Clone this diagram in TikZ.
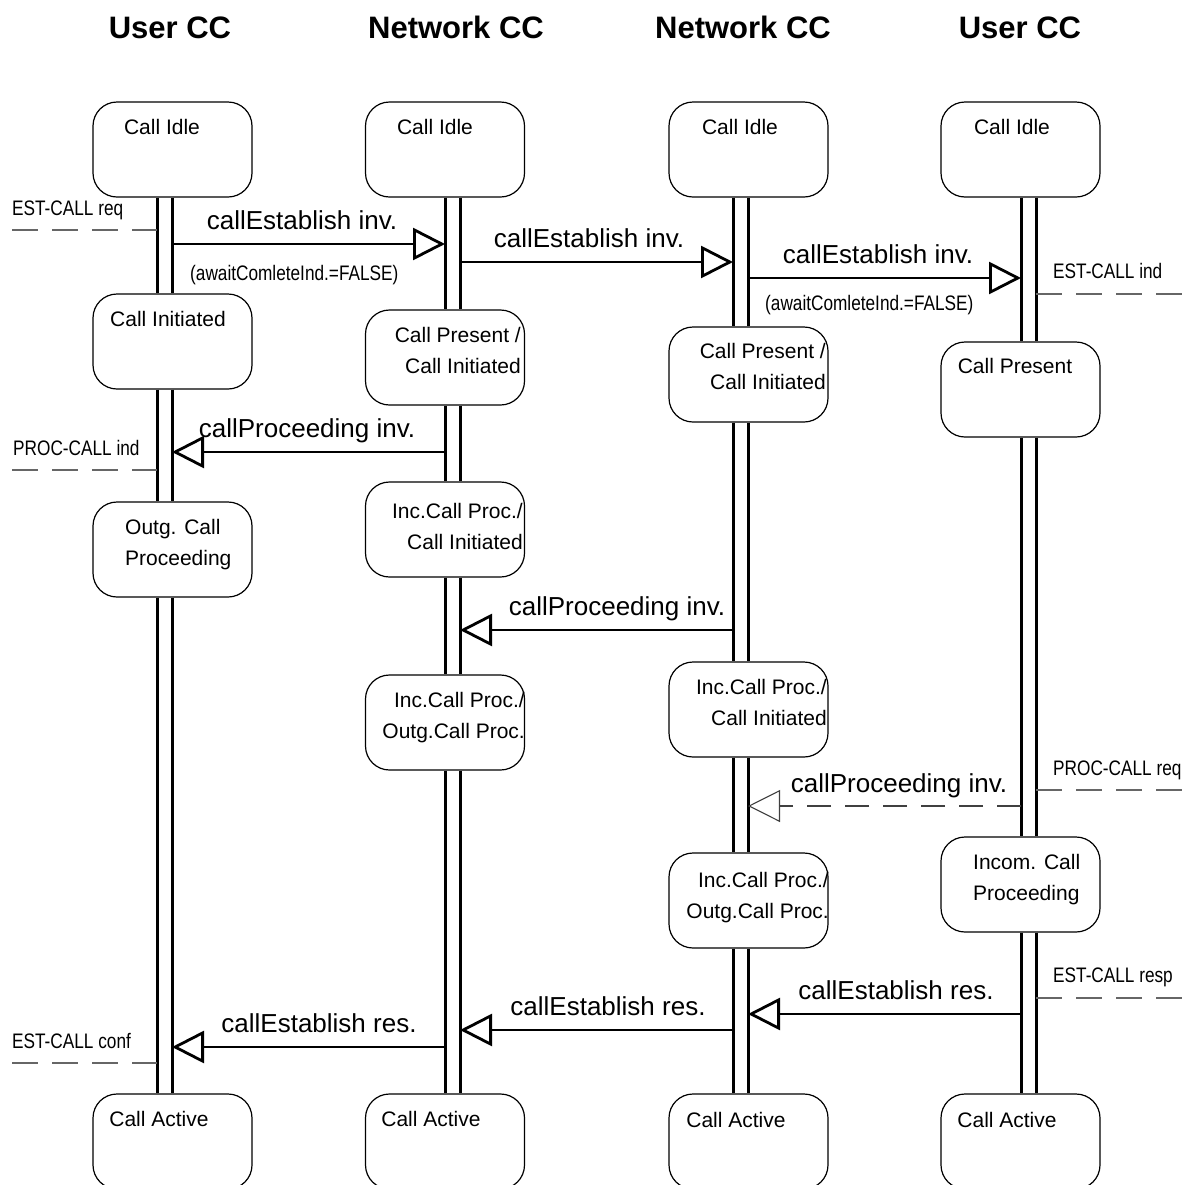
\documentclass[tikz,border=0pt]{standalone}
\usepackage{fontspec}
\setmainfont{Liberation Sans}
\newfontfamily\narrowfont[FakeStretch=0.82]{Liberation Sans}
\usetikzlibrary{arrows.meta}

\begin{document}
\begin{tikzpicture}[x=1pt,y=-1pt,
  state/.style={draw,line width=1.2pt,rounded corners=24pt,minimum width=159pt,minimum height=95pt,inner sep=0pt},
  life/.style={line width=3pt},
  msg/.style={line width=2.8pt,-{Triangle[open,length=32pt,width=32pt]}},
  dmsg/.style={line width=1.1pt,black!75,dash pattern=on 24pt off 14pt,-{Triangle[open,length=32pt,width=32pt]}},
  sig/.style={line width=1.1pt,black!60,dash pattern=on 26pt off 14pt},
  head/.style={font=\fontsize{31}{36}\selectfont\bfseries,anchor=base,inner sep=0pt},
  st/.style={font=\fontsize{21}{31}\selectfont,inner sep=0pt},
  lbl/.style={font=\fontsize{26}{30}\selectfont,anchor=base,inner sep=0pt},
  prim/.style={font=\narrowfont\fontsize{21}{25}\selectfont,anchor=base west,inner sep=0pt}
]
\path[fill=white,use as bounding box] (0,0) rectangle (1189,1184);

% column headings
\node[head] (h1) at (170,38) {User CC};
\node[head] (h2) at (456,38) {Network CC};
\node[head] (h3) at (743,38) {Network CC};
\node[head] (h4) at (1020,38) {User CC};

% lifeline rails (two per entity)
\coordinate (La1) at (157,0);  \coordinate (Lb1) at (172,0);
\coordinate (La2) at (445,0);  \coordinate (Lb2) at (460,0);
\coordinate (La3) at (733,0);  \coordinate (Lb3) at (748,0);
\coordinate (La4) at (1021,0); \coordinate (Lb4) at (1036,0);

% states, column 1
\node[state] (b11) at (172.5,149.5) {};
\node[state] (b12) at (172.5,341.5) {};
\node[state] (b13) at (172.5,549.5) {};
\node[state] (b14) at (172.5,1141.5) {};
% states, column 2
\node[state] (b21) at (445,149.5) {};
\node[state] (b22) at (445,357.5) {};
\node[state] (b23) at (445,529.5) {};
\node[state] (b24) at (445,722.5) {};
\node[state] (b25) at (445,1141.5) {};
% states, column 3
\node[state] (b31) at (748.5,149.5) {};
\node[state] (b32) at (748.5,374.5) {};
\node[state] (b33) at (748.5,709.5) {};
\node[state] (b34) at (748.5,900.5) {};
\node[state] (b35) at (748.5,1141.5) {};
% states, column 4
\node[state] (b41) at (1020.5,149.5) {};
\node[state] (b42) at (1020.5,389.5) {};
\node[state] (b43) at (1020.5,884.5) {};
\node[state] (b44) at (1020.5,1141.5) {};

% state names
\node[st,anchor=base] (t11) at (162,134.5) {Call Idle};
\node[st,anchor=base] (t21) at (435,134.5) {Call Idle};
\node[st,anchor=base] (t31) at (740,134.5) {Call Idle};
\node[st,anchor=base] (t41) at (1012,134.5) {Call Idle};
\node[st,anchor=base] (t12) at (168,326.5) {Call Initiated};
\node[st,anchor=base] (t42) at (1015,373.5) {Call Present};
\node[st,align=right,anchor=north east] (t22) at (521,327) {Call Present /\\Call Initiated};
\node[st,align=right,anchor=north east] (t32) at (826,343) {Call Present /\\Call Initiated};
\node[st,align=right,anchor=north east] (t23) at (523,503) {Inc.Call Proc./\\Call Initiated};
\node[st,align=right,anchor=north east] (t33) at (827,679) {Inc.Call Proc./\\Call Initiated};
\node[st,align=right,anchor=north east] (t24) at (525,692) {Inc.Call Proc./\\Outg.Call Proc.};
\node[st,align=right,anchor=north east] (t34) at (829,872) {Inc.Call Proc./\\Outg.Call Proc.};
\node[st,align=left,anchor=north west] (t13) at (125,519) {Outg. Call\\Proceeding};
\node[st,align=left,anchor=north west] (t43) at (973,854) {Incom. Call\\Proceeding};
\node[st,anchor=base] (t14) at (159,1126.5) {Call Active};
\node[st,anchor=base] (t25) at (431,1126.5) {Call Active};
\node[st,anchor=base] (t35) at (736,1127) {Call Active};
\node[st,anchor=base] (t44) at (1007,1127) {Call Active};

% lifeline segments between consecutive states
\foreach \u/\v/\k in {b11/b12/1,b12/b13/1,b13/b14/1,
                      b21/b22/2,b22/b23/2,b23/b24/2,b24/b25/2,
                      b31/b32/3,b32/b33/3,b33/b34/3,b34/b35/3,
                      b41/b42/4,b42/b43/4,b43/b44/4}{
  \draw[life] (\u.south -| La\k) -- (\v.north -| La\k);
  \draw[life] (\u.south -| Lb\k) -- (\v.north -| Lb\k);
}

% message heights
\coordinate (y1) at (0,244);
\coordinate (y2) at (0,262);
\coordinate (y3) at (0,278);
\coordinate (y6) at (0,452);
\coordinate (y8) at (0,630);
\coordinate (y9) at (0,806);
\coordinate (y11) at (0,1014);
\coordinate (y13) at (0,1030);
\coordinate (y14) at (0,1047);

% messages between entities
\draw[msg] (Lb1 |- y1) -- (La2 |- y1);
\draw[msg] (Lb2 |- y2) -- (La3 |- y2);
\draw[msg] (Lb3 |- y3) -- (La4 |- y3);
\draw[msg] (La2 |- y6) -- (Lb1 |- y6);
\draw[msg] (La3 |- y8) -- (Lb2 |- y8);
\draw[dmsg] (La4 |- y9) -- (Lb3 |- y9);
\draw[msg] (La4 |- y11) -- (Lb3 |- y11);
\draw[msg] (La3 |- y13) -- (Lb2 |- y13);
\draw[msg] (La2 |- y14) -- (Lb1 |- y14);

% message names
\node[lbl] (l1) at (302,229) {callEstablish inv.};
\node[lbl] (l2) at (589,247) {callEstablish inv.};
\node[lbl] (l3) at (878,263) {callEstablish inv.};
\node[lbl] (l6) at (307,437) {callProceeding inv.};
\node[lbl] (l8) at (617,615) {callProceeding inv.};
\node[lbl] (l9) at (899,792) {callProceeding inv.};
\node[lbl] (l11) at (896,999) {callEstablish res.};
\node[lbl] (l13) at (608,1015) {callEstablish res.};
\node[lbl] (l14) at (319,1032) {callEstablish res.};
\node[prim] (a1) at (190,280) {(awaitComleteInd.=FALSE)};
\node[prim] (a3) at (765,310) {(awaitComleteInd.=FALSE)};

% service primitives at the user side
\coordinate (s1) at (12,230);
\coordinate (s2) at (1189,294);
\coordinate (s3) at (12,470);
\coordinate (s4) at (1189,790);
\coordinate (s5) at (1189,998);
\coordinate (s6) at (12,1063);
\draw[sig] (s1) -- (La1 |- s1);
\draw[sig] (Lb4 |- s2) -- (s2);
\draw[sig] (s3) -- (La1 |- s3);
\draw[sig] (Lb4 |- s4) -- (s4);
\draw[sig] (Lb4 |- s5) -- (s5);
\draw[sig] (s6) -- (La1 |- s6);
\node[prim] (p1) at (12,215.5) {EST-CALL req};
\node[prim] (p2) at (1053,278) {EST-CALL ind};
\node[prim] (p3) at (13,455) {PROC-CALL ind};
\node[prim] (p4) at (1053,775) {PROC-CALL req};
\node[prim] (p5) at (1053,982) {EST-CALL resp};
\node[prim] (p6) at (12,1048) {EST-CALL conf};
\end{tikzpicture}
\end{document}
